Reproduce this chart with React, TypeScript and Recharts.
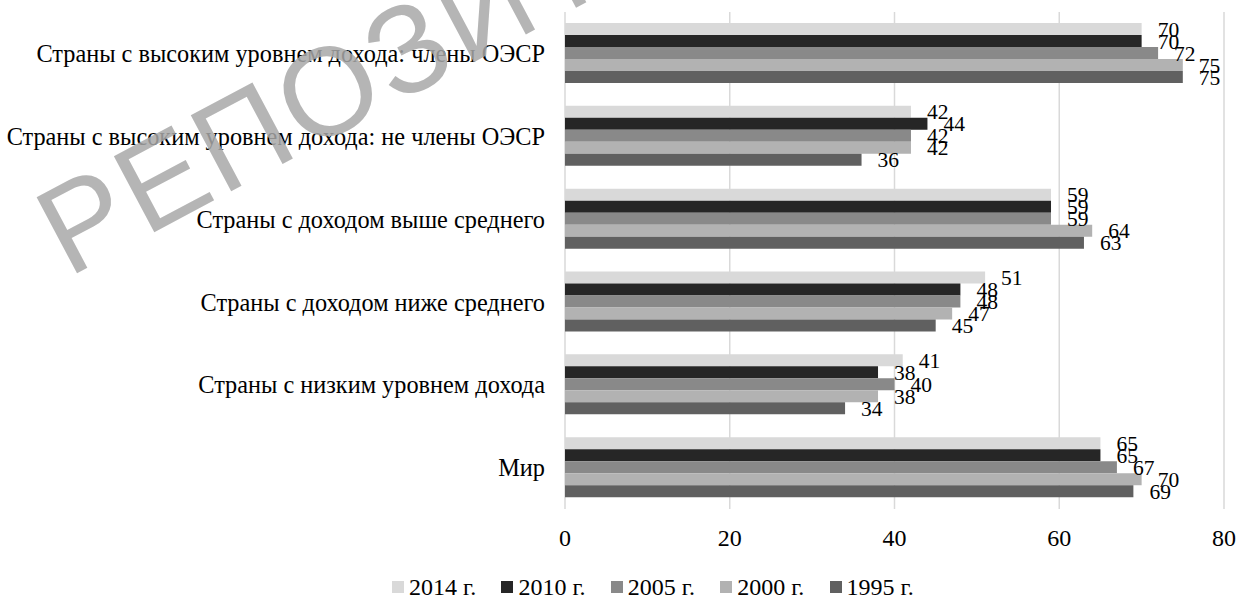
import React from 'react';
import { BarChart, Bar, XAxis, YAxis, CartesianGrid, Legend, LabelList } from 'recharts';

const categories = [
  'Страны с высоким уровнем дохода: члены ОЭСР',
  'Страны с высоким уровнем дохода: не члены ОЭСР',
  'Страны с доходом выше среднего',
  'Страны с доходом ниже среднего',
  'Страны с низким уровнем дохода',
  'Мир',
];

const seriesKeys = ['y2014', 'y2010', 'y2005', 'y2000', 'y1995'];
const seriesNames = ['2014 г.', '2010 г.', '2005 г.', '2000 г.', '1995 г.'];
const seriesColors = ['#d9d9d9', '#262626', '#898989', '#b2b2b2', '#606060'];

const values2014 = [70, 42, 59, 51, 41, 65];
const values2010 = [70, 44, 59, 48, 38, 65];
const values2005 = [72, 42, 59, 48, 40, 67];
const values2000 = [75, 42, 64, 47, 38, 70];
const values1995 = [75, 36, 63, 45, 34, 69];

const xTicks = [0, 20, 40, 60, 80];
const watermarkText = 'РЕПОЗИТОРИЙ';

const seriesValues = [values2014, values2010, values2005, values2000, values1995];

const data = categories.map((name, i) => {
  const row: Record<string, string | number> = { name };
  seriesKeys.forEach((k, s) => {
    row[k] = seriesValues[s][i];
  });
  return row;
});

const FONT = '"Liberation Serif", "Times New Roman", serif';

const LegendContent = () => (
  <div
    style={{
      display: 'flex',
      paddingLeft: 392,
      height: 22,
      fontFamily: FONT,
      fontSize: 24,
      lineHeight: '22px',
      color: '#000',
    }}
  >
    {seriesNames.map((n, i) => (
      <div key={n} style={{ display: 'flex', alignItems: 'center', width: 109.4, flex: '0 0 auto' }}>
        <div style={{ width: 12, height: 12, background: seriesColors[i], marginRight: 5 }} />
        <span style={{ whiteSpace: 'nowrap' }}>{n}</span>
      </div>
    ))}
  </div>
);

export default function App() {
  return (
    <div style={{ position: 'absolute', left: 0, top: 0, width: 1239, height: 598, background: '#fff' }}>
      <BarChart
        layout="vertical"
        width={1239}
        height={598}
        data={data}
        margin={{ top: 12, right: 15, bottom: 0, left: 0 }}
        barGap={0}
        barSize={12}
      >
        <CartesianGrid horizontal={false} stroke="#d9d9d9" strokeWidth={1.5} />
        <XAxis
          type="number"
          domain={[0, 80]}
          ticks={xTicks}
          axisLine={false}
          tickLine={false}
          tickSize={0}
          tickMargin={20}
          height={67}
          tick={{ fontSize: 24, fill: '#000', fontFamily: FONT }}
          interval={0}
        />
        <YAxis
          type="category"
          dataKey="name"
          width={565}
          axisLine={false}
          tickLine={false}
          tickSize={0}
          tickMargin={20}
          interval={0}
          tick={{ fontSize: 24.3, fill: '#000', fontFamily: FONT }}
        />
        <Legend verticalAlign="bottom" wrapperStyle={{ left: 0, width: 1239 }} content={() => <LegendContent />} />
        {seriesKeys.map((k, i) => (
          <Bar key={k} dataKey={k} name={seriesNames[i]} fill={seriesColors[i]} isAnimationActive={false}>
            <LabelList
              dataKey={k}
              position="right"
              offset={16}
              style={{ fontSize: 21.5, fill: '#000', fontFamily: FONT }}
            />
          </Bar>
        ))}
      </BarChart>
      <svg
        width={1239}
        height={598}
        style={{ position: 'absolute', left: 0, top: 0, pointerEvents: 'none' }}
      >
        <text
          x={68}
          y={278}
          transform="rotate(-28 68 278)"
          fontFamily='"Liberation Sans", Arial, sans-serif'
          fontSize={125}
          letterSpacing={4}
          fill="#a8a8a8"
          fillOpacity={0.85}
        >
          {watermarkText}
        </text>
      </svg>
    </div>
  );
}
